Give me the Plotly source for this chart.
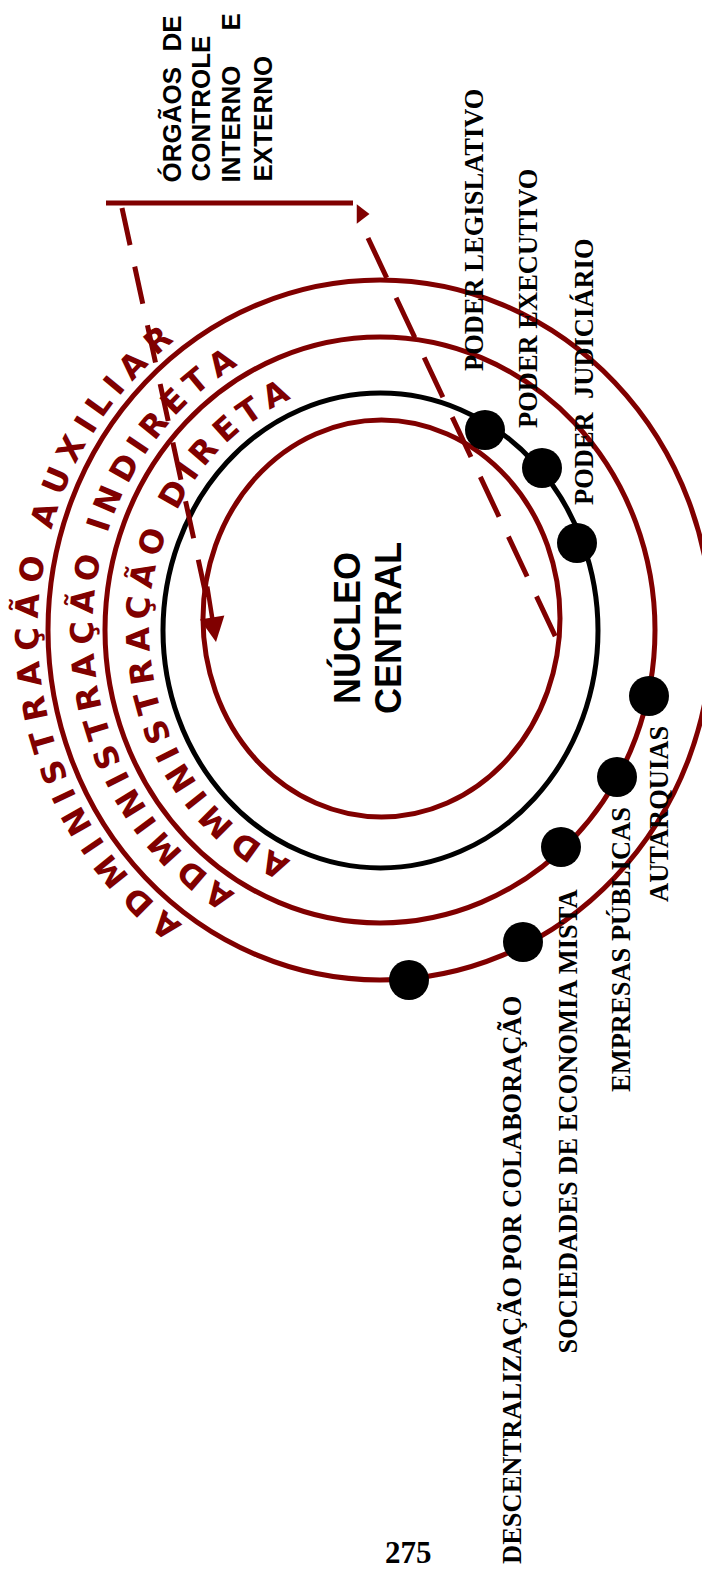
import numpy as np
import plotly.graph_objects as go

MAROON = "#800000"

# ---------------- data ----------------
# concentric rings (pixel geometry of the diagram)
ring_cx = [381.5, 380.5, 380.0, 380.0]
ring_cy = [618.5, 630.5, 630.0, 630.0]
ring_rx = [178.5, 217.5, 275.0, 332.0]
ring_ry = [198.5, 237.5, 293.0, 350.0]
ring_color = [MAROON, "#000000", MAROON, MAROON]

# nodes (black dots)
dot_x = [485, 542, 577, 649, 617, 561, 523, 409]
dot_y = [430, 468, 543, 696, 777, 847, 942, 980]

# node labels (vertical text)
label_text = ["PODER LEGISLATIVO", "PODER EXECUTIVO", "PODER  JUDICIÁRIO",
              "AUTARQUIAS", "EMPRESAS PÚBLICAS",
              "SOCIEDADES DE ECONOMIA MISTA",
              "DESCENTRALIZAÇÃO POR COLABORAÇÃO"]
label_x = [474, 528, 584, 659, 621, 567.5, 512]
label_y = [230, 299, 372, 814, 950, 1122, 1280]

# centre text
core_text = ["NÚCLEO", "CENTRAL"]
core_x = [347, 388]
core_y = [628, 628]

# control organs text (justified block)
ctrl_words = ["ÓRGÃOS", "DE", "CONTROLE", "INTERNO", "E", "EXTERNO"]
ctrl_x = [171, 171, 200, 230, 230, 262]
ctrl_y = [124.5, 33.5, 108.5, 124.5, 22.5, 118.5]

# curved ring titles
arc_titles = ["ADMINISTRAÇÃO AUXILIAR", "ADMINISTRAÇÃO INDIRETA", "ADMINISTRAÇÃO DIRETA"]
arc_rx = [353, 298, 242]
arc_ry = [372, 316, 261]
arc_t_first = [127.4, 122.8, 116.0]
arc_t_last = [231.1, 237.8, 244.5]

# connector lines
ctrl_line_x = [106, 353]
ctrl_line_y = [203, 203]
left_dash_x = [122, 207]
left_dash_y = [208, 600]
right_dash_x = [368, 557]
right_dash_y = [238, 640]

page_number = "275"

# page offset of the default html body margin
OFF = 8

# ---------------- figure ----------------
fig = go.Figure()

shapes = []
for cx, cy, rx, ry, col in zip(ring_cx, ring_cy, ring_rx, ring_ry, ring_color):
    shapes.append(dict(type="circle", xref="x", yref="y",
                       x0=cx - rx, x1=cx + rx, y0=cy - ry, y1=cy + ry,
                       line=dict(color=col, width=5), layer="below"))

fig.add_trace(go.Scatter(x=ctrl_line_x, y=ctrl_line_y, mode="lines",
                         line=dict(color=MAROON, width=5)))
fig.add_trace(go.Scatter(x=left_dash_x, y=left_dash_y, mode="lines",
                         line=dict(color=MAROON, width=5, dash="38px,22px")))
fig.add_trace(go.Scatter(x=right_dash_x, y=right_dash_y, mode="lines",
                         line=dict(color=MAROON, width=5, dash="44px,22px")))
fig.add_trace(go.Scatter(x=[ctrl_line_x[1] + 8], y=[ctrl_line_y[0] + 11], mode="markers",
                         marker=dict(symbol="triangle-right", size=17, color=MAROON)))

fig.add_trace(go.Scatter(x=dot_x, y=dot_y, mode="markers",
                         marker=dict(color="black", size=40, line=dict(width=0))))

ann = []
# arrowhead of left dashed line
ann.append(dict(x=216, y=642, ax=left_dash_x[1], ay=left_dash_y[1] - 15,
                xref="x", yref="y", axref="x", ayref="y", text="",
                showarrow=True, arrowhead=2, arrowsize=1.1, arrowwidth=4.5,
                arrowcolor=MAROON))

for t, x, y in zip(label_text, label_x, label_y):
    ann.append(dict(x=x, y=y, text=t, showarrow=False, textangle=-90,
                    xanchor="center", yanchor="middle",
                    font=dict(family="Liberation Serif", size=26.5, color="black", weight="bold")))

for t, x, y in zip(core_text, core_x, core_y):
    ann.append(dict(x=x, y=y, text=t, showarrow=False, textangle=-90,
                    xanchor="center", yanchor="middle",
                    font=dict(family="Liberation Sans", size=36, color="black", weight="bold")))

for t, x, y in zip(ctrl_words, ctrl_x, ctrl_y):
    ann.append(dict(x=x, y=y, text=t, showarrow=False, textangle=-90,
                    xanchor="center", yanchor="middle",
                    font=dict(family="Liberation Sans", size=26, color="black", weight="bold")))

ann.append(dict(x=408, y=1552, text=page_number, showarrow=False,
                xanchor="center", yanchor="middle", borderpad=0,
                font=dict(family="Liberation Serif", size=31, color="black", weight="bold")))

# curved text along ellipses
W = {"A": .774, "D": .830, "M": .995, "I": .372, "N": .837, "S": .720, "T": .682,
     "R": .770, "Ç": .734, "Ã": .774, "O": .850, "U": .812, "X": .774, "L": .637,
     "E": .683, " ": .348}
cx0, cy0 = 380.0, 630.0
for text, rx, ry, tf, tl in zip(arc_titles, arc_rx, arc_ry, arc_t_first, arc_t_last):
    w = np.array([W.get(c, .75) + 0.12 for c in text])
    centers = np.cumsum(w) - w / 2
    tt = np.radians(np.linspace(90, 270, 4000))
    xs = cx0 + rx * np.cos(tt)
    ys = cy0 + ry * np.sin(tt)
    s = np.concatenate([[0], np.cumsum(np.hypot(np.diff(xs), np.diff(ys)))])
    s_f = np.interp(np.radians(tf), tt, s)
    s_l = np.interp(np.radians(tl), tt, s)
    sc = s_f + (centers - centers[0]) / (centers[-1] - centers[0]) * (s_l - s_f)
    tc = np.interp(sc, s, tt)
    for ch, t in zip(text, tc):
        if ch == " ":
            continue
        x = cx0 + rx * np.cos(t)
        y = cy0 + ry * np.sin(t)
        nx, ny = np.cos(t) / rx, np.sin(t) / ry
        ang = np.degrees(np.arctan2(ny, nx)) + 90
        ang = (ang + 180) % 360 - 180
        ann.append(dict(x=float(x), y=float(y), text=ch, showarrow=False,
                        textangle=float(ang), xanchor="center", yanchor="middle",
                        borderpad=0,
                        font=dict(family="DejaVu Sans", size=32, color=MAROON, weight="bold")))

fig.update_layout(
    width=710, height=1571,
    margin=dict(l=0, r=0, t=0, b=0),
    paper_bgcolor="white", plot_bgcolor="white",
    showlegend=False,
    xaxis=dict(range=[OFF, 710 + OFF], visible=False, fixedrange=True),
    yaxis=dict(range=[1571 + OFF, OFF], visible=False, fixedrange=True),
    shapes=shapes, annotations=ann,
)

fig.write_html("out.html")
